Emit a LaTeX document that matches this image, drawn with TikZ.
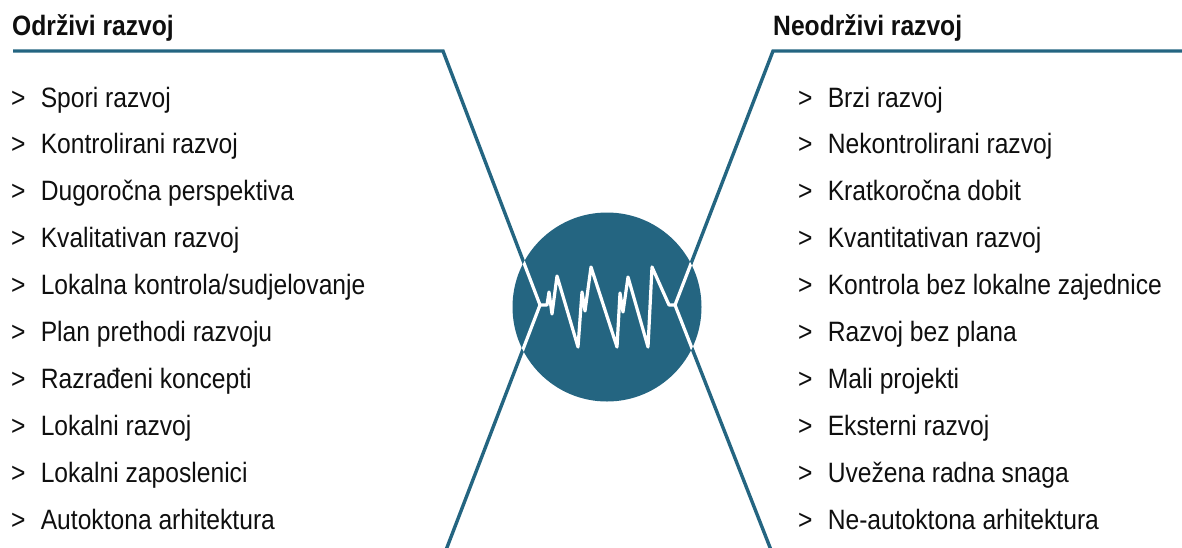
\documentclass[tikz,border=0pt]{standalone}
\usepackage{fontspec}
\usepackage{graphicx}
\setmainfont{Liberation Sans}
\definecolor{diagblue}{RGB}{36,101,129}
\definecolor{textcol}{RGB}{15,15,15}
\begin{document}
\begin{tikzpicture}[x=1pt,y=-1pt,
  itemtxt/.style={anchor=base west, inner sep=0pt, text=textcol, font=\fontsize{28}{34}\selectfont},
  headtxt/.style={anchor=base west, inner sep=0pt, text=textcol, font=\bfseries\fontsize{28}{34}\selectfont},
  blueline/.style={draw=diagblue, line width=3.4pt, line join=miter},
  whiteline/.style={draw=white, line width=3.2pt, line join=round}]
\useasboundingbox (0,0) rectangle (1182,547);
% headers
\node[headtxt] (hL) at (12,35) {\scalebox{0.88}[1]{Održivi razvoj}};
\node[headtxt] (hR) at (773,35) {\scalebox{0.88}[1]{Neodrživi razvoj}};
% items
\foreach \t [count=\i from 0] in {Spori razvoj, Kontrolirani razvoj, Dugoročna perspektiva, Kvalitativan razvoj, Lokalna kontrola/sudjelovanje, Plan prethodi razvoju, Razrađeni koncepti, Lokalni razvoj, Lokalni zaposlenici, Autoktona arhitektura}
  \node[itemtxt] (L\i) at (11,{107+46.9*\i}) {\scalebox{0.88}[1]{\makebox[33.6pt][l]{>}\t}};
\foreach \t [count=\i from 0] in {Brzi razvoj, Nekontrolirani razvoj, Kratkoročna dobit, Kvantitativan razvoj, Kontrola bez lokalne zajednice, Razvoj bez plana, Mali projekti, Eksterni razvoj, Uvežena radna snaga, Ne-autoktona arhitektura}
  \node[itemtxt] (R\i) at (798,{107+46.9*\i}) {\scalebox{0.88}[1]{\makebox[33.6pt][l]{>}\t}};
% coordinates
\coordinate (l0) at (13,51);
\coordinate (l1) at (443,51);
\coordinate (la) at (540,305);
\coordinate (l2) at (446,550);
\coordinate (r0) at (1185,51);
\coordinate (r1) at (773,51);
\coordinate (ra) at (675,305);
\coordinate (r2) at (771,550);
% outer lines
\draw[blueline] (l0) -- (l1) -- (la) -- (l2);
\draw[blueline] (r0) -- (r1) -- (ra) -- (r2);
% circle
\node[circle, fill=diagblue, minimum size=189pt, inner sep=0pt] (c) at (607,307) {};
\begin{scope}
  \clip (c.center) circle (94.5pt);
  \draw[whiteline, line join=miter] (l1) -- (la) -- (l2);
  \draw[whiteline, line join=miter] (r1) -- (ra) -- (r2);
\end{scope}
% zigzag
\draw[whiteline] (la) -- (547,305) -- (549,292) -- (552,314) -- (557,276) -- (578,347) -- (582,292) -- (585,311) -- (591,267) -- (617,347) -- (620,293) -- (623,312) -- (628,277) -- (648,347) -- (652,267) -- (669,305) -- (ra);
\end{tikzpicture}
\end{document}
